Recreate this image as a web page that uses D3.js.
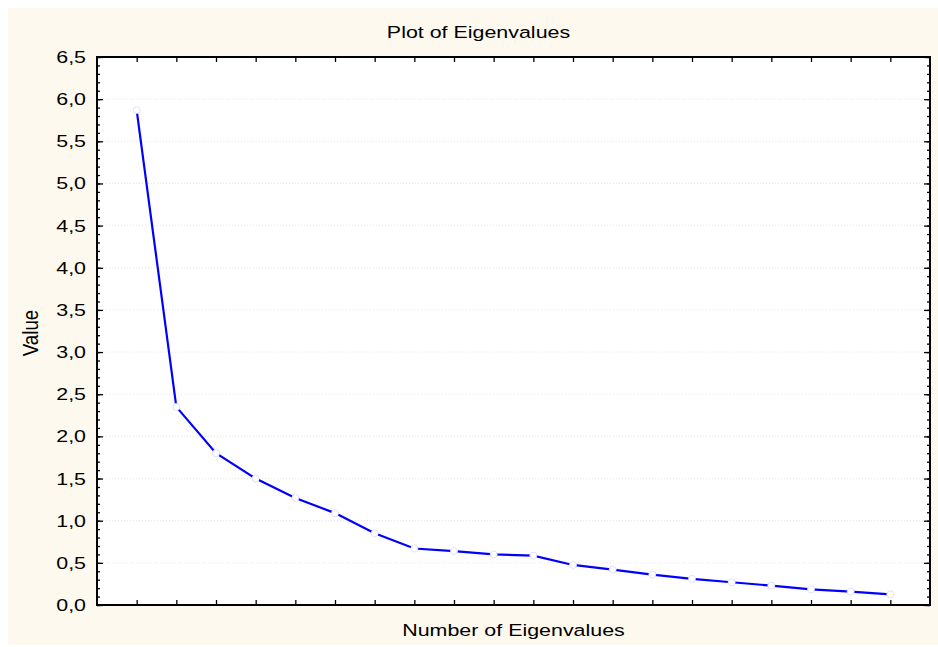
<!DOCTYPE html>
<html>
<head>
<meta charset="utf-8">
<script src="https://cdn.jsdelivr.net/npm/d3@7"></script>
<style>
  html, body { margin: 0; padding: 0; background: #fff; }
  svg { display: block; font-family: "Liberation Sans", Arial, sans-serif; }
</style>
</head>
<body>
<svg id="chart"></svg>
<script>
// eigenvalue number and value
const eigenNumbers = [1, 2, 3, 4, 5, 6, 7, 8, 9, 10, 11, 12, 13, 14, 15, 16, 17, 18, 19, 20];
const eigenValues = [5.87, 2.35, 1.80, 1.50, 1.27, 1.09, 0.85, 0.67, 0.64, 0.60,
                     0.585, 0.475, 0.42, 0.36, 0.31, 0.27, 0.23, 0.186, 0.158, 0.127];
const yTickValues = [0, 0.5, 1, 1.5, 2, 2.5, 3, 3.5, 4, 4.5, 5, 5.5, 6, 6.5];

const width = 938, height = 647;
const plot = { left: 97, right: 930, top: 57, bottom: 605 };
const stretch = 1.26; // text in the original is a bit wide
const fontSize = 17;

const svg = d3.select('#chart')
  .attr('width', width)
  .attr('height', height);

svg.append('rect')
  .attr('x', 8).attr('y', 8)
  .attr('width', width - 8).attr('height', height - 10)
  .attr('fill', '#fef9ee');

svg.append('rect')
  .attr('x', plot.left).attr('y', plot.top)
  .attr('width', plot.right - plot.left).attr('height', plot.bottom - plot.top)
  .attr('fill', '#fff');

const x = d3.scaleLinear().domain([0, 21]).range([plot.left, plot.right]);
const y = d3.scaleLinear().domain([0, 6.5]).range([plot.bottom, plot.top]);

const fmt = d3.formatLocale({ decimal: ',', thousands: '.', grouping: [3], currency: ['', ''] }).format('.1f');

// dotted grid
svg.append('g')
  .selectAll('line')
  .data(yTickValues.slice(1, -1))
  .join('line')
  .attr('x1', plot.left).attr('x2', plot.right)
  .attr('y1', d => y(d)).attr('y2', d => y(d))
  .attr('stroke', '#e6e6e6')
  .attr('stroke-width', 1)
  .attr('stroke-dasharray', '1,2');

const minorTicks = d3.range(0, 66).map(d => d / 10);

function tickAxis(axis, transform) {
  const g = svg.append('g').attr('transform', transform).call(axis);
  g.select('.domain').remove();
  g.selectAll('line').attr('stroke', '#000').attr('stroke-width', 1.3);
  return g;
}

// y ticks, pointing inward, minor and major
tickAxis(d3.axisLeft(y).tickValues(minorTicks).tickSize(-3).tickFormat(''), `translate(${plot.left},0)`);
tickAxis(d3.axisLeft(y).tickValues(yTickValues).tickSize(-6).tickFormat(''), `translate(${plot.left},0)`);
tickAxis(d3.axisRight(y).tickValues(minorTicks).tickSize(-3).tickFormat(''), `translate(${plot.right},0)`);
tickAxis(d3.axisRight(y).tickValues(yTickValues).tickSize(-6).tickFormat(''), `translate(${plot.right},0)`);

// x ticks, no labels
tickAxis(d3.axisBottom(x).tickValues(eigenNumbers).tickSize(-5).tickFormat(''), `translate(0,${plot.bottom})`);
tickAxis(d3.axisTop(x).tickValues(eigenNumbers).tickSize(-5).tickFormat(''), `translate(0,${plot.top})`);

// frame
svg.append('rect')
  .attr('x', plot.left).attr('y', plot.top)
  .attr('width', plot.right - plot.left).attr('height', plot.bottom - plot.top)
  .attr('fill', 'none')
  .attr('stroke', '#000')
  .attr('stroke-width', 2);

// y labels
svg.append('g')
  .selectAll('text')
  .data(yTickValues)
  .join('text')
  .attr('transform', d => `translate(86,${y(d)}) scale(${stretch},1)`)
  .attr('dy', '0.35em')
  .attr('text-anchor', 'end')
  .attr('font-size', fontSize)
  .attr('fill', '#000')
  .text(d => fmt(d));

// line and markers
const line = d3.line()
  .x((d, i) => x(eigenNumbers[i]))
  .y(d => y(d));

svg.append('path')
  .datum(eigenValues)
  .attr('d', line)
  .attr('fill', 'none')
  .attr('stroke', '#0000ff')
  .attr('stroke-width', 2.2);

svg.append('g')
  .selectAll('circle')
  .data(eigenValues)
  .join('circle')
  .attr('cx', (d, i) => x(eigenNumbers[i]))
  .attr('cy', d => y(d))
  .attr('r', 3.5)
  .attr('fill', '#fff')
  .attr('stroke', '#d8d8ff')
  .attr('stroke-width', 0.8);

// titles
svg.append('text')
  .attr('transform', `translate(${(plot.left + plot.right) / 2 - 35},38) scale(${stretch},1)`)
  .attr('text-anchor', 'middle')
  .attr('font-size', fontSize)
  .attr('fill', '#000')
  .text('Plot of Eigenvalues');

svg.append('text')
  .attr('transform', `translate(${(plot.left + plot.right) / 2},636) scale(${stretch},1)`)
  .attr('text-anchor', 'middle')
  .attr('font-size', fontSize)
  .attr('fill', '#000')
  .text('Number of Eigenvalues');

svg.append('text')
  .attr('transform', `translate(38,${(plot.top + plot.bottom) / 2 + 2}) rotate(-90) scale(1.1,${stretch})`)
  .attr('text-anchor', 'middle')
  .attr('font-size', fontSize)
  .attr('fill', '#000')
  .text('Value');
</script>
</body>
</html>
